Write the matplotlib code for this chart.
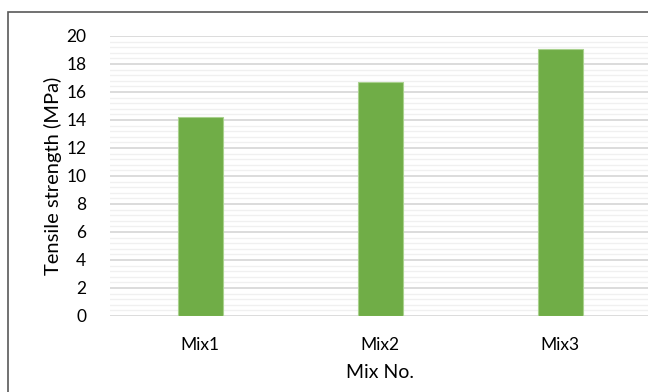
import matplotlib
matplotlib.use("Agg")
import matplotlib.pyplot as plt
import numpy as np
from matplotlib.patches import Rectangle

plt.rcParams['font.family'] = ['Lato', 'DejaVu Sans']

mixes = ["Mix1", "Mix2", "Mix3"]
strength = [14.2, 16.7, 19.1]
y_ticks = [0, 2, 4, 6, 8, 10, 12, 14, 16, 18, 20]

W, H = 648, 392
fig = plt.figure(figsize=(W / 100, H / 100), dpi=100)

# chart border (right and bottom edges fall outside the picture)
fig.patches.append(Rectangle((8 / W, -0.05), 1.0, (H - 12) / H + 0.05, transform=fig.transFigure,
                             fill=False, edgecolor="#595959", linewidth=1.2))

ax = fig.add_axes([110 / W, (H - 316) / H, 540 / W, 280 / H])
x = np.arange(len(mixes))
ax.bar(x, strength, width=0.25, color="#70AD47", edgecolor="#A9D18E", linewidth=0.8, zorder=3)

ax.set_xlim(-0.5, len(mixes) - 0.5)
ax.set_ylim(0, 20)
ax.set_yticks(y_ticks)
ax.set_yticks(np.arange(0, 20.01, 0.4), minor=True)
ax.set_xticks(x)
ax.set_xticklabels(mixes)
ax.grid(axis="y", which="major", color="#D9D9D9", linewidth=1.3, zorder=0)
ax.grid(axis="y", which="minor", color="#F0F0F0", linewidth=1.0, zorder=0)
ax.tick_params(axis="both", which="both", length=0, labelsize=12.5, colors="#000000")
ax.tick_params(axis="y", pad=17)
ax.tick_params(axis="x", pad=15)
for s in ax.spines.values():
    s.set_visible(False)

ax.set_ylabel("Tensile strength (MPa)", fontsize=14.5, labelpad=3)
ax.set_xlabel("Mix No.", fontsize=14, labelpad=8)

fig.savefig("out.png", dpi=100)
